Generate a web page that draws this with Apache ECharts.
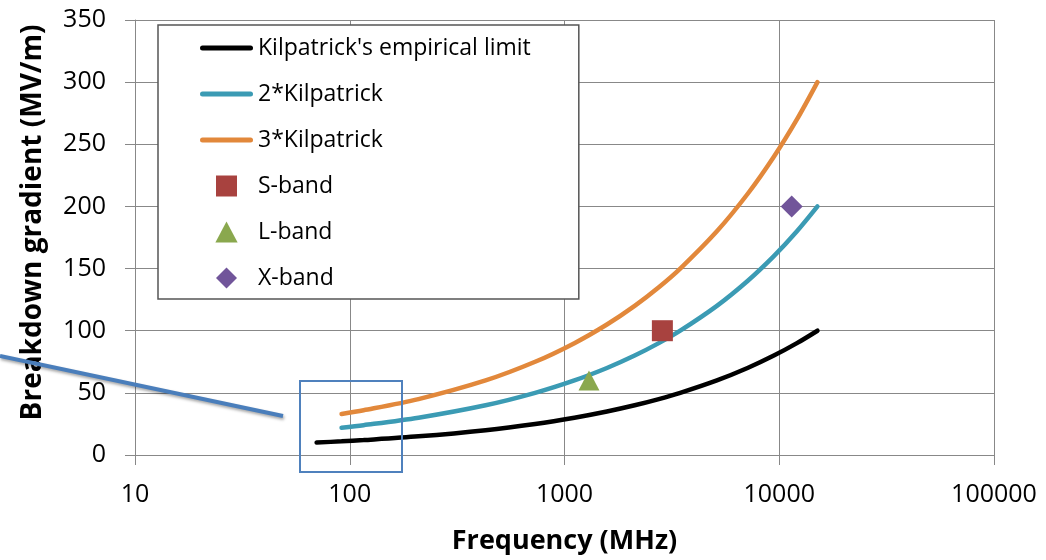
<!DOCTYPE html>
<html>
<head>
<meta charset="utf-8">
<script src="https://cdn.jsdelivr.net/npm/echarts@6/dist/echarts.min.js"></script>
<style>
html,body{margin:0;padding:0;background:#fff;}
#chart{width:1046px;height:560px;}
</style>
</head>
<body>
<div id="chart"></div>
<script>
// Kilpatrick's empirical limit (frequency MHz, gradient MV/m)
var kilFreq = [70.1, 91.6, 116, 209, 429, 730, 1112, 1576, 2122, 2749, 3459, 5124, 7118, 9438, 12087, 15063];
var kilGrad = [10, 11, 12, 15, 20, 25, 30, 35, 40, 45, 50, 60, 70, 80, 90, 100];
// 2* and 3* Kilpatrick curves
var multFreq = [91.6, 116, 209, 429, 730, 1112, 1576, 2122, 2749, 3459, 5124, 7118, 9438, 12087, 15063];
var twoKil = [22, 24, 30, 40, 50, 60, 70, 80, 90, 100, 120, 140, 160, 180, 200];
var threeKil = [33, 36, 45, 60, 75, 90, 105, 120, 135, 150, 180, 210, 240, 270, 300];
// Band points [frequency, gradient]
var sBand = [[2856, 100]];
var lBand = [[1300, 60]];
var xBand = [[11424, 200]];
var xTicks = [10, 100, 1000, 10000, 100000];

function pairs(xs, ys) { return xs.map(function (x, i) { return [x, ys[i]]; }); }

var FONT = '"Open Sans", sans-serif';
var GRID = '#888888';
var LINE_ICON = 'path://M2.5,0 L50.5,0 A2.5,2.5 0 0 1 50.5,5 L2.5,5 A2.5,2.5 0 0 1 2.5,0 Z';
var chart = echarts.init(document.getElementById('chart'), null, {renderer: 'canvas'});
var option = {
  animation: false,
  backgroundColor: '#fff',
  grid: {left: 135, right: 52, top: 20, bottom: 103},
  xAxis: {
    type: 'log', logBase: 10, min: 10, max: 100000,
    name: 'Frequency (MHz)', nameLocation: 'middle', nameGap: 73,
    nameTextStyle: {fontFamily: FONT, fontWeight: 'bold', fontSize: 27, color: '#000'},
    axisLine: {show: true, lineStyle: {color: GRID, width: 1}},
    axisTick: {show: true, length: 10, lineStyle: {color: GRID}},
    minorTick: {show: false},
    splitLine: {show: true, lineStyle: {color: GRID, width: 1}},
    axisLabel: {fontFamily: FONT, fontSize: 25, color: '#000', margin: 27,
      formatter: function (v) { return String(Math.round(v)); }}
  },
  yAxis: {
    type: 'value', min: 0, max: 350, interval: 50,
    name: 'Breakdown gradient (MV/m)', nameLocation: 'middle', nameGap: 88,
    nameTextStyle: {fontFamily: FONT, fontWeight: 'bold', fontSize: 28, color: '#000', padding: [0, 0, 0, 30]},
    axisLine: {show: true, lineStyle: {color: GRID, width: 1}},
    axisTick: {show: true, length: 10, lineStyle: {color: GRID}},
    splitLine: {show: true, lineStyle: {color: GRID, width: 1}},
    axisLabel: {fontFamily: FONT, fontSize: 25, color: '#000', margin: 29}
  },
  legend: {
    orient: 'vertical', left: 158, top: 25,
    padding: [11, 48, 9, 42],
    backgroundColor: '#fff', borderColor: '#555', borderWidth: 1.5,
    itemWidth: 53, itemHeight: 21, itemGap: 22,
    symbolKeepAspect: true,
    textStyle: {fontFamily: FONT, fontSize: 23, color: '#000', lineHeight: 24},
    selectedMode: false,
    data: [
      {name: "Kilpatrick's empirical limit", icon: LINE_ICON},
      {name: '2*Kilpatrick', icon: LINE_ICON},
      {name: '3*Kilpatrick', icon: LINE_ICON},
      {name: 'S-band', icon: 'path://M0,0 L18,0 L18,18 L0,18 Z'},
      {name: 'L-band', icon: 'path://M9,0 L18,17 L0,17 Z'},
      {name: 'X-band', icon: 'path://M9,0 L18,9 L9,18 L0,9 Z'}
    ]
  },
  series: [
    {name: "Kilpatrick's empirical limit", type: 'line', data: pairs(kilFreq, kilGrad),
      symbol: 'none', smooth: 0.3, lineStyle: {color: '#000', width: 4.5, cap: 'round'}, itemStyle: {color: '#000'}},
    {name: '2*Kilpatrick', type: 'line', data: pairs(multFreq, twoKil),
      symbol: 'none', smooth: 0.3, lineStyle: {color: '#3B9BB4', width: 4.5, cap: 'round'}, itemStyle: {color: '#3B9BB4'}},
    {name: '3*Kilpatrick', type: 'line', data: pairs(multFreq, threeKil),
      symbol: 'none', smooth: 0.3, lineStyle: {color: '#E2883B', width: 4.5, cap: 'round'}, itemStyle: {color: '#E2883B'}},
    {name: 'S-band', type: 'scatter', data: sBand, symbol: 'rect', symbolSize: 21,
      itemStyle: {color: '#A8423F', opacity: 1}, z: 5},
    {name: 'L-band', type: 'scatter', data: lBand, symbol: 'triangle', symbolSize: [21, 20],
      itemStyle: {color: '#8AA84E', opacity: 1}, z: 5},
    {name: 'X-band', type: 'scatter', data: xBand, symbol: 'diamond', symbolSize: [22, 22],
      itemStyle: {color: '#71559A', opacity: 1}, z: 5}
  ],
  graphic: [
    {type: 'rect', z: 100, shape: {x: 300, y: 381, width: 102, height: 91},
      style: {fill: 'none', stroke: '#4F81BD', lineWidth: 2}},
    {type: 'line', z: 100, shape: {x1: 0, y1: 356, x2: 283, y2: 416},
      style: {stroke: '#4A7EBB', lineWidth: 4, shadowBlur: 3, shadowColor: 'rgba(0,0,0,0.35)', shadowOffsetX: 1, shadowOffsetY: 2}}
  ]
};
chart.setOption(option);
</script>
</body>
</html>
